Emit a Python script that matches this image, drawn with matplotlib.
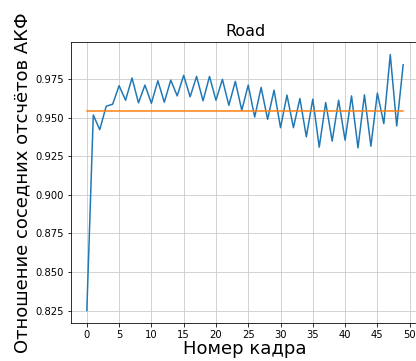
import matplotlib
matplotlib.use('Agg')
import matplotlib.pyplot as plt

# ratio of neighbouring ACF samples per frame
frames = list(range(50))
ratio = [0.825, 0.9517, 0.9422, 0.9574, 0.9587, 0.9707, 0.9613, 0.9757, 0.9596, 0.9711,
         0.9593, 0.9739, 0.9600, 0.9743, 0.9641, 0.9774, 0.9635, 0.9767, 0.9609, 0.9767,
         0.9613, 0.9748, 0.9580, 0.9735, 0.9548, 0.9711, 0.9504, 0.9696, 0.9489, 0.9678,
         0.9435, 0.9646, 0.9435, 0.9624, 0.9376, 0.9620, 0.9309, 0.9598, 0.9348, 0.9613,
         0.9354, 0.9641, 0.9304, 0.9648, 0.9315, 0.9659, 0.9461, 0.9909, 0.9446, 0.9843]
level = 0.9544  # reference level

fig = plt.figure(figsize=(416 / 72, 361 / 72), dpi=72)
ax = fig.add_axes([0.1707, 0.1044, 0.8365, 0.780])
ax.plot(frames, ratio)
ax.plot([frames[0], frames[-1]], [level, level])
ax.set_xticks(range(0, 51, 5))
ax.grid(True, color='#c8c8c8')
ax.set_title('Road', fontsize=16)
ax.set_xlabel('Номер кадра', fontsize=18, labelpad=0)
ax.set_ylabel('Отношение соседних отсчётов АКФ', fontsize=18)
plt.savefig('out.png', dpi=72)
